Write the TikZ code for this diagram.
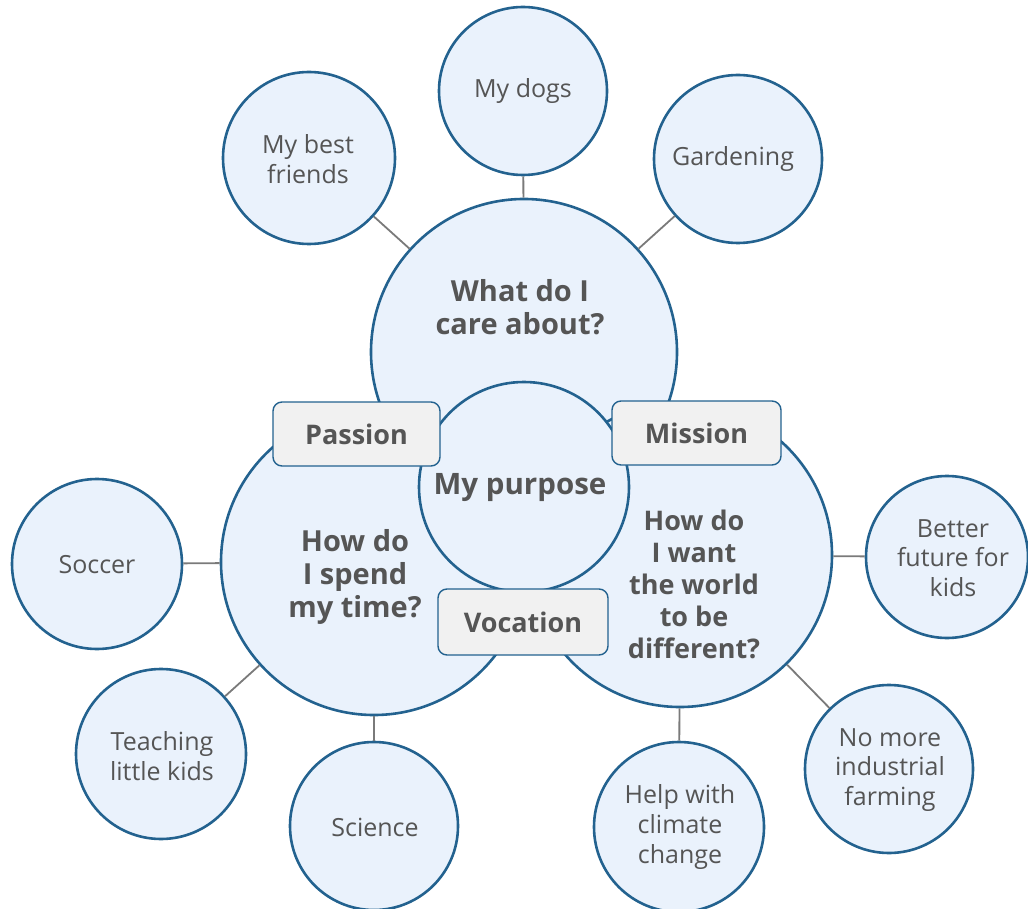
\documentclass[tikz,border=0pt]{standalone}
\usepackage{fontspec}
\setmainfont{Open Sans}
\definecolor{cborder}{RGB}{35,98,143}
\definecolor{cfill}{RGB}{234,242,252}
\definecolor{bfill}{RGB}{241,241,241}
\definecolor{ctext}{RGB}{85,85,85}
\definecolor{cconn}{RGB}{122,122,122}
\begin{document}
\begin{tikzpicture}[x=1pt,y=-1pt,
  bubble/.style={circle,draw=cborder,fill=cfill,line width=2.6pt,inner sep=0pt,minimum size=#1},
  smalltxt/.style={text=ctext,align=center,font=\fontsize{25}{29.8}\selectfont},
  bigtxt/.style={text=ctext,align=center,font=\bfseries\fontsize{29}{33}\selectfont},
  tag/.style={rounded corners=9pt,draw=cborder,fill=bfill,line width=1.4pt,minimum width=167pt,minimum height=64pt,inner sep=0pt,text=ctext,font=\bfseries\fontsize{27}{30}\selectfont},
  conn/.style={draw=cconn,line width=1.8pt}]
\useasboundingbox (0,0) rectangle (1028,909);
% small circles
\node[bubble=168pt] (dogs) at (523,91) {};
\node[bubble=172pt] (friends) at (309,158) {};
\node[bubble=168pt] (garden) at (738,159) {};
\node[bubble=170pt] (soccer) at (97,564) {};
\node[bubble=162pt] (future) at (947,557) {};
\node[bubble=170pt] (teach) at (161,754) {};
\node[bubble=168pt] (science) at (374,826) {};
\node[bubble=170pt] (climate) at (679,827) {};
\node[bubble=168pt] (farm) at (889,769) {};
% big circles
\node[bubble=306pt] (care) at (524,352) {};
\node[bubble=306pt] (spend) at (374,562) {};
\node[bubble=304pt] (world) at (680,555) {};
\node[bubble=210pt] (purpose) at (524,487) {};
% connectors
\draw[conn] (dogs) -- (care);
\draw[conn] (friends) -- (care);
\draw[conn] (garden) -- (care);
\draw[conn] (soccer) -- (spend);
\draw[conn] (teach) -- (spend);
\draw[conn] (science) -- (spend);
\draw[conn] (future) -- (world);
\draw[conn] (climate) -- (world);
\draw[conn] (farm) -- (world);
% tags
\node[tag] (passion) at (356.5,434) {Passion};
\node[tag,minimum width=169pt] (mission) at (696.5,433) {Mission};
\node[tag,minimum width=170pt,minimum height=66pt] (vocation) at (523,622) {Vocation};
% texts
\node[bigtxt] (tcare) at (520,307) {What do I\\care about?};
\node[bigtxt] (tspend) at (355,577) {How do\\I spend\\my time?};
\node[bigtxt,font=\bfseries\fontsize{27}{32}\selectfont] (tworld) at (694,584) {How do\\I want\\the world\\to be\\different?};
\node[bigtxt,font=\bfseries\fontsize{29.5}{34}\selectfont] (tpurpose) at (520,488) {My purpose};
\node[smalltxt] (tdogs) at (523,91) {My dogs};
\node[smalltxt] (tfriends) at (308,159) {My best\\friends};
\node[smalltxt] (tgarden) at (733,159) {Gardening};
\node[smalltxt] (tsoccer) at (97,565) {Soccer};
\node[smalltxt] (tfuture) at (953,558) {Better\\future for\\kids};
\node[smalltxt] (tteach) at (162,756) {Teaching\\little kids};
\node[smalltxt] (tscience) at (375,827) {Science};
\node[smalltxt] (tclimate) at (680,827) {Help with\\climate\\change};
\node[smalltxt] (tfarm) at (890,770) {No more\\industrial\\farming};
\end{tikzpicture}
\end{document}
